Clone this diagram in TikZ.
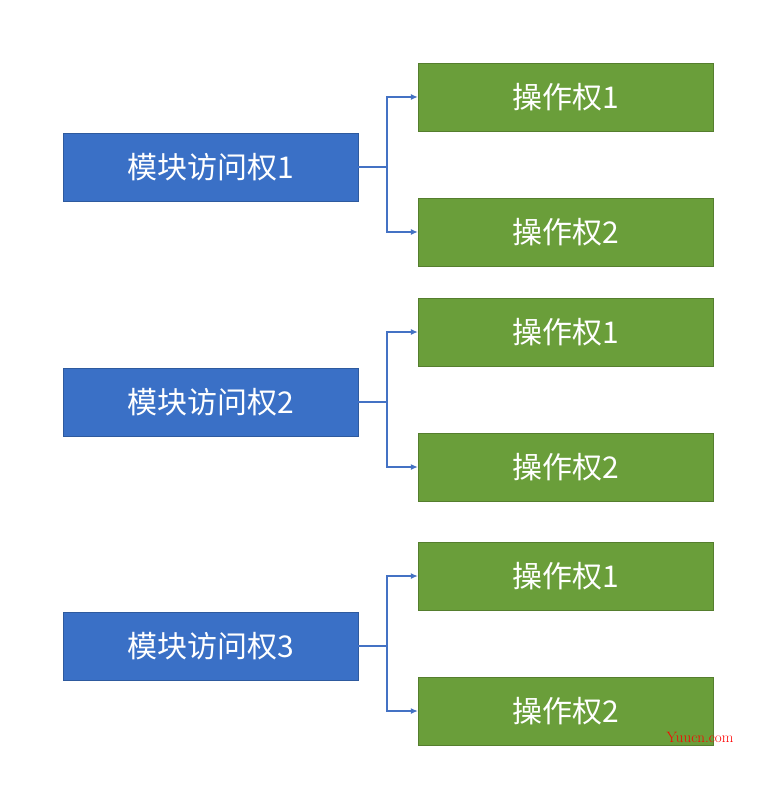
\documentclass[tikz,border=0pt]{standalone}
\usepackage{fontspec}
\newfontfamily\cjk{Noto Sans CJK SC}
\usetikzlibrary{arrows.meta}
\definecolor{mblue}{HTML}{3A70C6}
\definecolor{mgreen}{HTML}{6A9E3A}
\definecolor{lblue}{HTML}{4472C4}
\tikzset{
 modbox/.style={fill=mblue,draw=mblue!80!black,minimum width=295pt,minimum height=68pt,inner sep=0pt,text=white,font=\cjk\fontsize{30}{32}\selectfont},
 opbox/.style={fill=mgreen,draw=mgreen!80!black,minimum width=295pt,minimum height=68pt,inner sep=0pt,text=white,font=\cjk\fontsize{30}{32}\selectfont},
 conn/.style={draw=lblue,line width=1.2pt,-{Latex[length=7pt,width=6pt]}}
}
\begin{document}
\begin{tikzpicture}[x=1pt,y=-1pt]
\useasboundingbox[fill=white] (0,0) rectangle (761,791);
\foreach \i/\ym/\ya/\yb in {1/167/97/232, 2/402/332/467, 3/646/576/711}{
 \node[modbox] (m\i) at (210.5,\ym) {模块访问权\i};
 \node[opbox] (a\i) at (565.5,\ya) {操作权1};
 \node[opbox] (b\i) at (565.5,\yb) {操作权2};
 \coordinate (j\i) at (387,\ym);
 \draw[draw=lblue,line width=1.2pt] (m\i.east) -- (j\i);
 \draw[conn] (j\i) |- (a\i.west);
 \draw[conn] (j\i) |- (b\i.west);
}
\node[text=red,font=\fontsize{15}{16}\selectfont\rmfamily] (wm) at (700,737) {Yuucn.com};
\end{tikzpicture}
\end{document}
